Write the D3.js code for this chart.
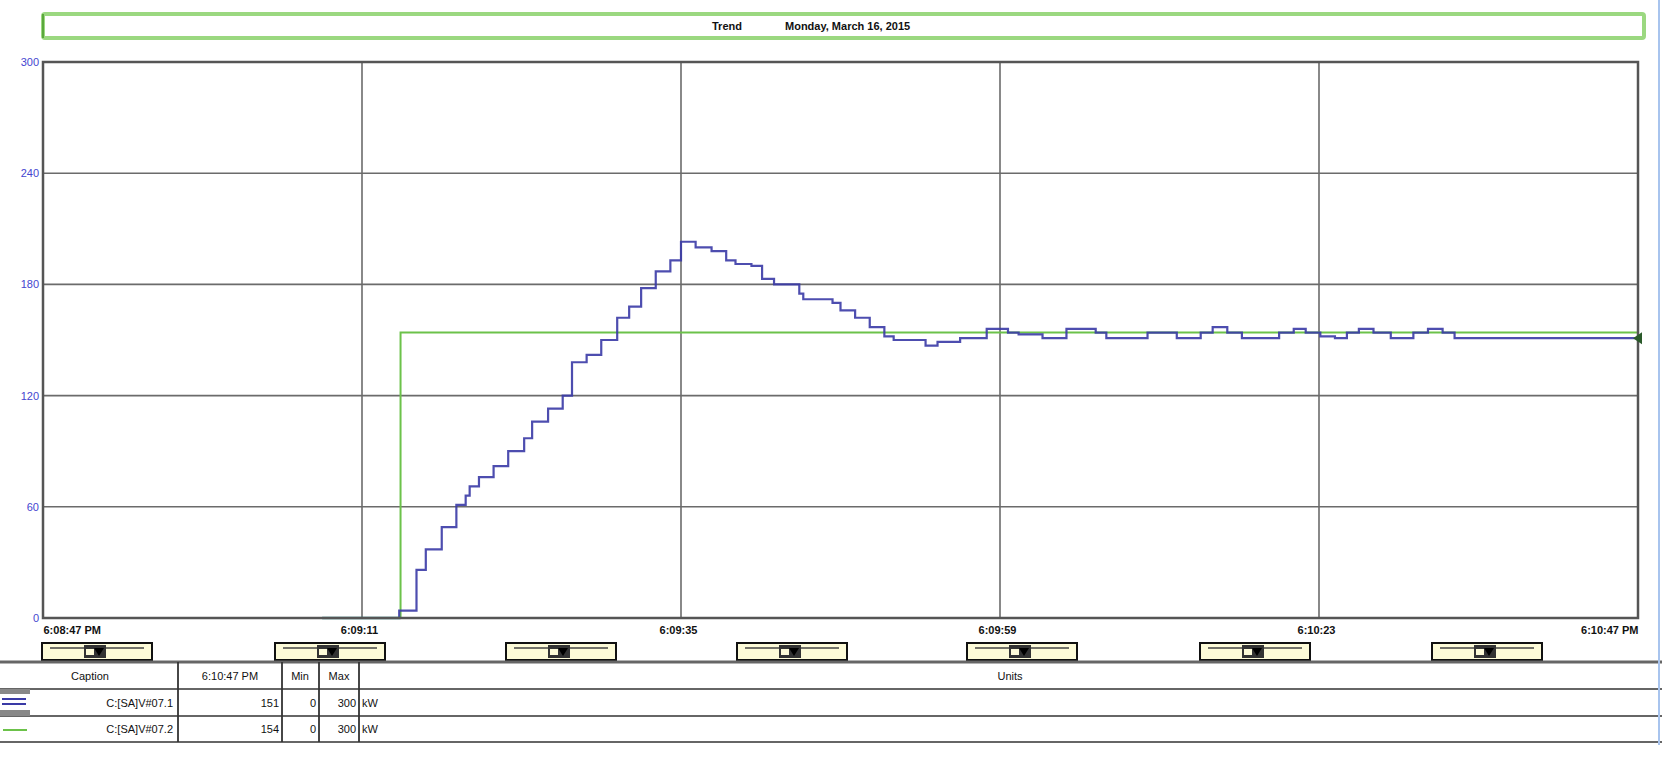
<!DOCTYPE html>
<html><head><meta charset="utf-8">
<script src="https://cdn.jsdelivr.net/npm/d3@7"></script>
<style>
body{margin:0;background:#fff;}
svg{display:block;}
text{font-family:"Liberation Sans Narrow","Liberation Sans",Arial,sans-serif;}
</style></head>
<body><svg id="c" width="1667" height="761"></svg>
<script>
// ---- data ----
const titleLabel = "Trend";
const titleDate = "Monday, March 16, 2015";
const xTickSeconds = [0, 24, 48, 72, 96, 120];
const xTickLabels = ["6:08:47 PM", "6:09:11", "6:09:35", "6:09:59", "6:10:23", "6:10:47 PM"];
const yTicks = [0, 60, 120, 180, 240, 300];
// series 1 (blue, process value): seconds after 6:08:47 PM, value
const pvTimes = [21, 26.8, 28.1, 28.8, 30.0, 31.1, 31.8, 32.1, 32.8, 33.9, 35.0, 36.2, 36.8, 38.0, 39.1, 39.8, 40.9, 42.0, 43.2, 44.1, 45.0, 46.1, 47.2, 48.0, 49.1, 50.3, 51.4, 52.1, 53.3, 54.1, 55.0, 56.9, 57.2, 59.4, 60.0, 61.1, 62.2, 63.3, 64.0, 66.4, 67.3, 69.0, 71.0, 72.6, 73.4, 75.2, 77.0, 79.2, 80.0, 83.1, 85.3, 87.1, 88.0, 89.1, 90.2, 93.0, 94.1, 95.0, 96.1, 97.2, 98.1, 99.0, 100.1, 101.4, 103.1, 104.2, 105.3, 106.2, 120];
const pvValues = [0, 4, 26, 37, 49, 61, 66, 71, 76, 82, 90, 97, 106, 113, 120, 138, 142, 150, 162, 168, 178, 187, 193, 203, 200, 198, 193, 191, 190, 183, 180, 175, 172, 170, 166, 162, 157, 152, 150, 147, 149, 151, 156, 154, 153, 151, 156, 154, 151, 154, 151, 154, 157, 154, 151, 154, 156, 154, 152, 151, 154, 156, 154, 151, 154, 156, 154, 151, 151];
// series 2 (green, setpoint)
const spTimes = [21, 26.9, 120];
const spValues = [0, 154, 154];
// legend table
const tableHeaders = ["Caption", "6:10:47 PM", "Min", "Max", "Units"];
const captions = ["C:[SA]V#07.1", "C:[SA]V#07.2"];
const currentValues = ["151", "154"];
const minValues = ["0", "0"];
const maxValues = ["300", "300"];
const units = ["kW", "kW"];
const seriesColors = ["#3a3aa6", "#6cc24a"];

// ---- layout ----
const svg = d3.select("#c");
const L = 43, R = 1638, T = 62, B = 618;
const x = d3.scaleLinear().domain([0, 120]).range([L, R]);
const y = d3.scaleLinear().domain([0, 300]).range([B, T]);

// title box
svg.append("rect").attr("x", 43).attr("y", 14).attr("width", 1601).attr("height", 24)
  .attr("rx", 2).attr("fill", "#fff").attr("stroke", "#9bd880").attr("stroke-width", 4);
svg.append("line").attr("x1", 43).attr("x2", 43).attr("y1", 14).attr("y2", 38)
  .attr("stroke", "#5aa83c").attr("stroke-width", 2);
svg.append("text").attr("x", 712).attr("y", 30).attr("font-size", 11).attr("fill", "#111")
  .attr("font-weight", "bold").text(titleLabel);
svg.append("text").attr("x", 785).attr("y", 30).attr("font-size", 11).attr("fill", "#111")
  .attr("font-weight", "bold").text(titleDate);

// grid
const g = svg.append("g");
g.selectAll("line.hg").data(yTicks).join("line")
  .attr("x1", L).attr("x2", R).attr("y1", d => y(d)).attr("y2", d => y(d))
  .attr("stroke", "#6b6b6b").attr("stroke-width", 1.6);
g.selectAll("line.vg").data(xTickSeconds.slice(1, -1)).join("line")
  .attr("x1", d => x(d)).attr("x2", d => x(d)).attr("y1", T).attr("y2", B)
  .attr("stroke", "#6b6b6b").attr("stroke-width", 1.6);

// y axis labels
const yAxis = d3.axisLeft(y).tickValues(yTicks).tickSize(0).tickPadding(4);
const ya = svg.append("g").attr("transform", `translate(${L},0)`).call(yAxis);
ya.select(".domain").remove();
ya.selectAll("text").attr("font-size", 11).attr("fill", "#4545d0")
  .attr("font-family", "'Liberation Sans Narrow',Arial,sans-serif");

// x axis labels
const xAxis = d3.axisBottom(x).tickValues(xTickSeconds).tickSize(0).tickPadding(8)
  .tickFormat((d, i) => xTickLabels[i]);
const xa = svg.append("g").attr("transform", `translate(0,${B})`).call(xAxis);
xa.select(".domain").remove();
xa.selectAll("text").attr("font-size", 11).attr("fill", "#111").attr("font-weight", "bold")
  .attr("font-family", "'Liberation Sans Narrow',Arial,sans-serif")
  .attr("text-anchor", (d, i) => i === 0 ? "start" : (i === xTickSeconds.length - 1 ? "end" : "middle"))
  .attr("dx", (d, i) => (i === 0 || i === xTickSeconds.length - 1) ? 0 : -3);

// lines
const line = d3.line().x(d => x(d[0])).y(d => y(d[1])).curve(d3.curveStepAfter);
const sp = spTimes.map((t, i) => [t, spValues[i]]);
const pv = pvTimes.map((t, i) => [t, pvValues[i]]);
svg.append("path").attr("d", line(sp)).attr("fill", "none")
  .attr("stroke", seriesColors[1]).attr("stroke-width", 2);
svg.append("path").attr("d", line(pv)).attr("fill", "none")
  .attr("stroke", seriesColors[0]).attr("stroke-width", 2.2).attr("opacity", 0.9);
// overlap at zero looks teal
svg.append("path").attr("d", line([[spTimes[0], 0], [spTimes[1], 0]]))
  .attr("fill", "none").attr("stroke", "#2b7f80").attr("stroke-width", 2.5);

// plot frame
svg.append("rect").attr("x", L).attr("y", T).attr("width", R - L).attr("height", B - T)
  .attr("fill", "none").attr("stroke", "#555").attr("stroke-width", 2.5);

// end marker
const ex = x(120), ey = y(pvValues[pvValues.length - 1]);
svg.append("path").attr("d", `M${ex - 5},${ey} L${ex + 4},${ey - 6} L${ex + 4},${ey + 6} Z`)
  .attr("fill", "#2a5a2a");

// scroll buttons
const btnX = [42, 275, 506, 737, 967, 1200, 1432];
const bg = svg.append("g");
btnX.forEach((bx, i) => {
  const b = bg.append("g").attr("transform", `translate(${bx},643)`);
  b.append("rect").attr("width", 110).attr("height", 17).attr("fill", "#fdfbd8").attr("stroke", "#111").attr("stroke-width", 2);
  b.append("line").attr("x1", 8).attr("x2", 102).attr("y1", 5).attr("y2", 5).attr("stroke", "#444").attr("stroke-width", 1.5);
  b.append("rect").attr("x", 42).attr("y", 2).attr("width", 22).attr("height", 13).attr("fill", "#333");
  b.append("rect").attr("x", 44).attr("y", 6).attr("width", 8).attr("height", 6).attr("fill", "#fdfbd8");
  b.append("path").attr("d", "M52,5 L62,5 L57,13 Z").attr("fill", "#000");
});

// table
const tw = 1662;
const hLines = [662, 689, 716, 742];
svg.selectAll("line.th").data(hLines).join("line")
  .attr("x1", 0).attr("x2", tw).attr("y1", d => d).attr("y2", d => d)
  .attr("stroke", "#666").attr("stroke-width", (d, i) => i === 0 ? 3 : 2.2);
const vLines = [178, 282, 319, 359];
svg.selectAll("line.tv").data(vLines).join("line")
  .attr("x1", d => d).attr("x2", d => d).attr("y1", 662).attr("y2", 742)
  .attr("stroke", "#333").attr("stroke-width", 1.8);
// selected row indicator
svg.append("rect").attr("x", 0).attr("y", 689).attr("width", 30).attr("height", 27).attr("fill", "#888");
svg.append("rect").attr("x", 0).attr("y", 694).attr("width", 30).attr("height", 16).attr("fill", "#fff");
svg.append("line").attr("x1", 2).attr("x2", 26).attr("y1", 699).attr("y2", 699).attr("stroke", seriesColors[0]).attr("stroke-width", 2);
svg.append("line").attr("x1", 2).attr("x2", 26).attr("y1", 704).attr("y2", 704).attr("stroke", seriesColors[0]).attr("stroke-width", 2);
svg.append("line").attr("x1", 3).attr("x2", 27).attr("y1", 730).attr("y2", 730).attr("stroke", seriesColors[1]).attr("stroke-width", 2);

const ts = {"font-size": 11, "fill": "#111"};
function tx(xp, yp, s, anchor) {
  const t = svg.append("text").attr("x", xp).attr("y", yp).attr("text-anchor", anchor).text(s);
  Object.entries(ts).forEach(([k, v]) => t.attr(k, v));
}
tx(90, 680, tableHeaders[0], "middle");
tx(230, 680, tableHeaders[1], "middle");
tx(300, 680, tableHeaders[2], "middle");
tx(339, 680, tableHeaders[3], "middle");
tx(1010, 680, tableHeaders[4], "middle");
captions.forEach((c, i) => {
  const yy = 707 + i * 26;
  tx(173, yy, c, "end");
  tx(279, yy, currentValues[i], "end");
  tx(316, yy, minValues[i], "end");
  tx(356, yy, maxValues[i], "end");
  tx(362, yy, units[i], "start");
});

// window edge
svg.append("line").attr("x1", 1659).attr("x2", 1659).attr("y1", 0).attr("y2", 745)
  .attr("stroke", "#a8c4ee").attr("stroke-width", 2);
</script></body></html>
